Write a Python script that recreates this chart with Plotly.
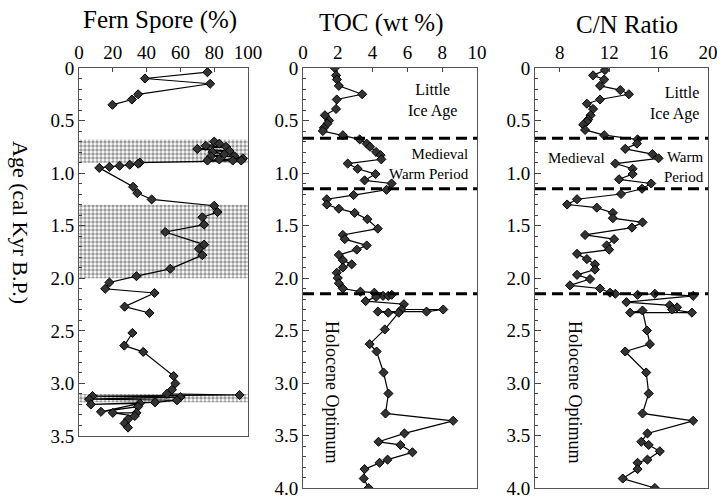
import plotly.graph_objects as go

# ---------------- data ----------------
# Fern spore record (None = gap in the record)
fern_age = [0.04, 0.10, 0.15, 0.25, 0.30, 0.35, None,
            0.70, 0.72, 0.74, 0.75, 0.77, 0.79, 0.80, 0.82, 0.84, 0.84,
            0.86, 0.88, 0.87, 0.88, 0.88, 0.90, 0.91, 0.92, 0.93, 0.94,
            0.95, 1.13, 1.19, 1.25, 1.31, 1.37, 1.42, 1.49, 1.56, 1.68,
            1.72, 1.78, 1.91, 1.98, 2.04, 2.10, 2.14, 2.27, 2.33, None,
            2.52, 2.64, 2.70, 2.93, 3.00, 3.06, 3.10, 3.11, 3.12, 3.13,
            3.15, 3.16, 3.18, 3.20, 3.19, 3.27, 3.22, 3.28, 3.28, 3.31,
            3.34, 3.38, 3.42]
fern_pct = [76, 39, 77.6, 35, 31.3, 19.8, None,
            80, 83, 75, 87, 70, 89, 79, 86, 78, 92,
            97, 76, 83, 91, 96, 36, 35, 30, 24, 18,
            12, 32, 34.5, 43, 80, 82, 73, 74, 51, 74,
            71, 73, 54, 34, 18, 15.5, 44.7, 27, 41.7, None,
            31.6, 26.8, 38, 56, 57, 55, 52, 95, 8, 60,
            6, 58, 45, 7, 36, 13, 35, 34, 20, 33,
            29, 27, 29]

# stippled intervals in the fern panel (cal kyr BP)
band_top = [0.68, 1.30, 3.10]
band_bottom = [0.90, 2.00, 3.18]

toc_age = [0.00, 0.07, 0.11, 0.17, 0.25, 0.30, 0.39, 0.45, 0.50, 0.53,
           0.57, 0.60, 0.64, 0.68, 0.72, 0.75, 0.80, 0.83, 0.87, 0.91,
           0.96, 1.01, 1.07, 1.10, 1.16, 1.21, 1.25, 1.30, 1.34, 1.38,
           1.44, 1.53, 1.59, 1.63, 1.69, 1.73, 1.78, 1.83, 1.87, 1.90,
           1.95, 2.00, 2.05, 2.10, 2.13, 2.14, 2.17, 2.17, 2.16, 2.18,
           2.22, 2.25, 2.30, 2.30, 2.32, 2.32, 2.33, 2.33, 2.49, 2.63,
           2.70, 2.90, 3.10, 3.29, 3.36, 3.48, 3.56, 3.59, 3.66, 3.73,
           3.76, 3.82, 3.91, 4.00]
toc_wt = [1.83, 1.9, 1.95, 2.06, 3.4, 1.94, 1.9, 1.26, 1.5, 1.4,
          1.2, 1.14, 2.29, 3.26, 3.66, 3.85, 4.2, 4.46, 4.5, 2.57,
          3.14, 4.17, 3.54, 5.09, 4.8, 2.91, 1.37, 1.37, 2.06, 2.97,
          3.7, 4.3, 2.29, 2.4, 3.66, 3.09, 2.06, 2.29, 2.8, 2.29,
          1.94, 2.0, 2.06, 2.29, 3.3, 4.1, 4.6, 4.9, 5.1, 4.2,
          3.6, 5.8, 5.66, 8.06, 7.1, 4.3, 4.9, 5.5, 4.7, 3.83,
          4.23, 4.63, 4.91, 4.74, 8.63, 5.83, 4.34, 5.6, 6.29, 4.86,
          4.4, 3.54, 3.49, 3.77]

cn_age = [0.02, 0.07, 0.11, 0.17, 0.21, 0.25, 0.30, 0.34, 0.39, 0.45,
          0.49, 0.51, 0.54, 0.59, 0.64, 0.68, 0.72, 0.77, 0.82, 0.86,
          0.91, 0.96, 1.01, 1.06, 1.10, 1.15, 1.20, 1.25, 1.30, 1.33,
          1.38, 1.43, 1.47, 1.52, 1.59, 1.63, 1.69, 1.73, 1.77, 1.82,
          1.87, 1.92, 1.97, 2.01, 2.07, 2.10, 2.14, 2.15, 2.16, 2.15,
          2.17, 2.23, 2.26, 2.28, 2.30, 2.33, 2.33, 2.31, 2.50, 2.63,
          2.70, 2.90, 3.10, 3.29, 3.36, 3.48, 3.56, 3.59, 3.65, 3.73,
          3.76, 3.82, 3.91, 4.00]
cn_ratio = [11.66, 10.7, 11.6, 11.26, 12.9, 13.6, 11.26, 10.2, 10.7, 10.5,
            10.3, 10.2, 9.9, 10.05, 11.6, 14.3, 14.25, 13.3, 15.5, 16.0,
            12.5, 13.9, 13.9, 12.8, 15.4, 14.66, 12.96, 9.4, 8.6, 11.0,
            12.3, 12.3, 14.7, 13.85, 10.05, 12.4, 11.8, 12.0, 9.4, 10.2,
            10.85, 10.85, 9.4, 10.45, 8.83, 11.26, 12.07, 12.5, 14.3, 15.7,
            18.8, 13.4, 16.9, 17.5, 17.1, 18.7, 13.7, 14.7, 15.06, 15.3,
            13.3, 15.0, 15.2, 14.7, 18.8, 15.1, 14.6, 15.2, 16.1, 15.1,
            14.3, 14.3, 13.1, 15.7]

# period boundaries (dashed lines)
period_bounds = [0.67, 1.15, 2.15]

fern_ticks = [0, 20, 40, 60, 80, 100]
toc_ticks = [0, 2, 4, 6, 8, 10]
cn_ticks = [8, 12, 16, 20]
age_ticks_1 = [0, 0.5, 1.0, 1.5, 2.0, 2.5, 3.0, 3.5]
age_labels_1 = ["0", "0.5", "1.0", "1.5", "2.0", "2.5", "3.0", "3.5"]
age_ticks_2 = [0, 0.5, 1.0, 1.5, 2.0, 2.5, 3.0, 3.5, 4.0]
age_labels_2 = ["0", "0.5", "1.0", "1.5", "2.0", "2.5", "3.0", "3.5", "4.0"]

# ---------------- figure ----------------
W, H = 717, 498
FONT = "Liberation Serif, Times New Roman, serif"


def xd(a, b):
    return [a / W, b / W]


def yd(top, bottom):
    return [1 - bottom / H, 1 - top / H]


def px(x):
    return x / W


def py(y):
    return 1 - y / H


fig = go.Figure()

# stippled bands
fig.add_trace(go.Bar(
    orientation="h",
    y=[(t + b) / 2 for t, b in zip(band_top, band_bottom)],
    width=[b - t for t, b in zip(band_top, band_bottom)],
    x=[100] * len(band_top), base=0,
    marker=dict(color="white", line=dict(width=0),
                pattern=dict(shape=".", fgcolor="#333", bgcolor="white",
                             size=4, solidity=0.55)),
    xaxis="x", yaxis="y", hoverinfo="skip", showlegend=False))

line_style = dict(color="black", width=1.2)
mk = dict(symbol="diamond", size=7, color="#333",
          line=dict(color="black", width=1))

fig.add_trace(go.Scatter(x=fern_pct, y=fern_age, mode="lines+markers",
                         line=line_style, marker=mk, xaxis="x", yaxis="y",
                         showlegend=False))
fig.add_trace(go.Scatter(x=toc_wt, y=toc_age, mode="lines+markers",
                         line=line_style, marker=mk, xaxis="x2", yaxis="y2",
                         showlegend=False))
fig.add_trace(go.Scatter(x=cn_ratio, y=cn_age, mode="lines+markers",
                         line=line_style, marker=mk, xaxis="x3", yaxis="y3",
                         showlegend=False))

# dashed period boundaries
shapes = []
for ax in ["2", "3"]:
    for v in period_bounds:
        shapes.append(dict(type="line", xref=f"x{ax} domain", yref=f"y{ax}",
                           x0=0, x1=1, y0=v, y1=v,
                           line=dict(color="black", width=3,
                                     dash="11px,6px")))

axis_common = dict(showline=True, mirror=True, linecolor="#555", linewidth=1,
                   showgrid=False, zeroline=False, automargin=False,
                   ticklabeloverflow="allow",
                   tickfont=dict(family=FONT, size=19, color="black"),
                   ticks="inside", tickcolor="#444")

xcommon = dict(axis_common, side="top", ticklen=4)
ycommon = dict(axis_common, ticklen=6,
               minor=dict(dtick=0.1, ticks="inside", ticklen=3,
                          tickcolor="#444", showgrid=False))

fig.update_layout(
    width=W, height=H,
    margin=dict(l=0, r=0, t=0, b=0, pad=0, autoexpand=False),
    paper_bgcolor="white", plot_bgcolor="white",
    font=dict(family=FONT, color="black"),
    shapes=shapes,
    xaxis=dict(xcommon, domain=xd(79, 248), range=[0, 100],
               tickvals=fern_ticks, anchor="y"),
    yaxis=dict(ycommon, domain=yd(68, 436), range=[3.5, 0],
               tickvals=age_ticks_1, ticktext=age_labels_1, anchor="x"),
    xaxis2=dict(xcommon, domain=xd(303, 477), range=[0, 10],
                tickvals=toc_ticks, anchor="y2"),
    yaxis2=dict(ycommon, domain=yd(68, 488), range=[4.0, 0],
                tickvals=age_ticks_2, ticktext=age_labels_2, anchor="x2"),
    xaxis3=dict(xcommon, domain=xd(535, 708), range=[6, 20],
                tickvals=cn_ticks, anchor="y3"),
    yaxis3=dict(ycommon, domain=yd(68, 488), range=[4.0, 0],
                tickvals=age_ticks_2, ticktext=age_labels_2, anchor="x3"),
)


def ann(text, x, y, size, xanchor="center", align="center", angle=0):
    fig.add_annotation(text=text, x=px(x), y=py(y), xref="paper",
                       yref="paper", showarrow=False, xanchor=xanchor,
                       yanchor="middle", align=align, textangle=angle,
                       font=dict(family=FONT, size=size, color="black"))


# titles
ann("Fern Spore (%)", 160, 20, 25)
ann("TOC (wt %)", 381, 23, 25)
ann("C/N Ratio", 627, 25, 25)
ann("Age (cal Kyr B.P.)", 21, 222, 22, angle=90)

# period labels, TOC panel
ann("Little<br>Ice Age", 432, 101, 16)
ann("Medieval<br>Warm Period", 471, 164, 15, xanchor="right", align="right")
ann("Holocene Optimum", 332, 392, 18, angle=90)

# period labels, C/N panel
ann("Little<br>Ice Age", 701, 103, 16, xanchor="right", align="right")
ann("Medieval", 576, 158, 15)
ann("Warm<br>Period", 706, 167, 15, xanchor="right", align="right")
ann("Holocene Optimum", 575, 392, 18, angle=90)

fig.write_html(
    "out.html",
    config={"displayModeBar": False},
    post_script="document.body.style.margin='0';"
                "document.body.style.overflow='hidden';",
)
